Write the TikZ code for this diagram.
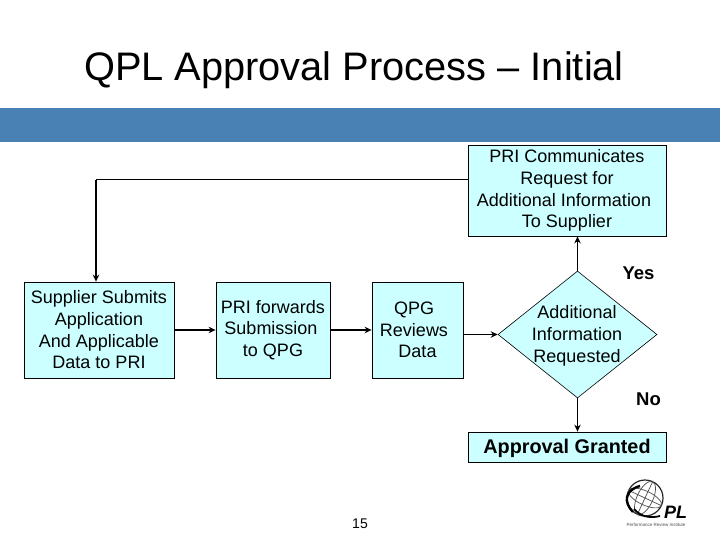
\documentclass[tikz,border=0pt]{standalone}
\usepackage{fontspec}
\setmainfont{Liberation Sans}
\usetikzlibrary{shapes.geometric,arrows.meta}
\definecolor{bandblue}{HTML}{4A81B4}
\definecolor{boxcyan}{HTML}{CCFFFF}
\tikzset{
	procbox/.style={draw=black, fill=boxcyan, line width=0.8pt, align=center, inner sep=0pt,
		font=\fontsize{18}{21.7}\selectfont, execute at begin node={\rule{0pt}{15pt}}},
	flow/.style={-{Stealth[length=7pt,width=6.5pt]}, line width=1.6pt},
	thinflow/.style={-{Stealth[length=7pt,width=6.5pt]}, line width=1pt},
	answer/.style={font=\fontsize{18.5}{20}\selectfont},
}
\begin{document}
\begin{tikzpicture}[x=1pt, y=-1pt]
	\useasboundingbox (0,0) rectangle (720,540);
	% --- band and title ---
	\fill[bandblue] (0,108) rectangle (720,142);
	\node[font=\fontsize{39.8}{44}\selectfont] (title) at (354,70) {QPL Approval Process -- Initial};

	% --- boxes ---
	\node[procbox, minimum width=150pt, minimum height=96pt] (supplier) at (99,330) {Supplier Submits\\Application\\And Applicable\\Data to PRI};
	\node[procbox, minimum width=114pt, minimum height=96pt] (forward) at (273,330) {PRI forwards\\\hspace*{-4pt}Submission\\to QPG};
	\node[procbox, minimum width=91pt, minimum height=96pt] (review) at (417.5,330) {\hspace*{-7pt}QPG\\\hspace*{-7pt}Reviews\\Data};
	\node[procbox, minimum width=198pt, minimum height=91pt] (inform) at (567,190.5) {PRI Communicates\\Request for\\\hspace*{-6pt}Additional Information\\To Supplier};
	\node[procbox, minimum width=198pt, minimum height=30pt, font=\fontsize{19.8}{22}\selectfont,
		execute at begin node={\rule{0pt}{18pt}}] (granted) at (567,447) {\textbf{Approval Granted}};

	% --- decision ---
	\node[diamond, draw=black, fill=boxcyan, line width=0.6pt, inner sep=0pt, aspect=1.25,
		minimum width=159pt, minimum height=127pt] (decide) at (577.5,334.5) {};
	\node[align=center, inner sep=0pt, font=\fontsize{18}{21.7}\selectfont] (decidetext) at (577,336) {Additional\\Information\\Requested};
	\node[answer] (yes) at (638.5,273) {\textbf{Yes}};
	\node[answer] (no) at (648.5,399.5) {\textbf{No}};

	% --- connectors ---
	\coordinate (turn) at (96,180);
	\draw[flow] (supplier.east) -- (forward.west);
	\draw[flow] (forward.east) -- (review.west);
	\draw[flow] (review.east |- decide.west) -- (decide.west);
	\draw[thinflow] (decide.north) -- (decide.north |- inform.south);
	\draw[thinflow] (decide.south) -- (decide.south |- granted.north);
	\draw[line width=1pt] (inform.west |- turn) -- (turn);
	\draw[flow] (turn) -- (turn |- supplier.north);

	% --- page number ---
	\node[font=\fontsize{14}{16}\selectfont] (pagenum) at (360,524) {15};

	% --- logo ---
	\coordinate (globe) at (645,498);
	\draw[line width=1.2pt, black!85] (globe) circle (18);
	\begin{scope}[line width=0.7pt, black!70, rotate around={-25:(globe)}]
		\draw (globe) ellipse (8 and 18);
		\draw (globe) ellipse (18 and 7);
		\draw (627,498) -- (663,498);
		\draw (645,480) -- (645,516);
	\end{scope}
	\draw[line width=2.4pt] (633,512) .. controls (623,502) and (625,490) .. (640,486);
	\draw[line width=1.8pt] (634,509) .. controls (642,518) and (652,518) .. (660,516);
	\node[font=\fontsize{18}{18}\selectfont\bfseries\itshape, inner sep=0pt] (logopl) at (675.5,512) {PL};
	\node[font=\fontsize{4.5}{5}\selectfont, inner sep=0pt, black!70] (logotext) at (656,525) {Performance Review Institute};
\end{tikzpicture}
\end{document}
